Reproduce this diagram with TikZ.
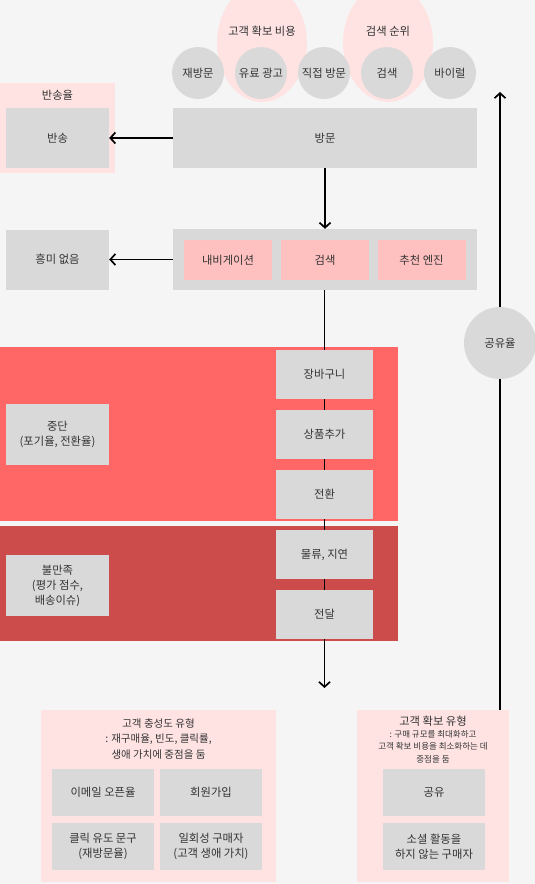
\documentclass[tikz,border=0pt]{standalone}
\usepackage{fontspec}
\setmainfont{Noto Sans CJK KR}
\usetikzlibrary{positioning, shapes.geometric, arrows.meta}

\definecolor{bggray}{HTML}{F5F5F5}
\definecolor{boxgray}{HTML}{D9D9D9}
\definecolor{softpink}{HTML}{FFE3E3}
\definecolor{rosepink}{HTML}{FFC0C0}
\definecolor{dropred}{HTML}{FF6666}
\definecolor{sadred}{HTML}{CC4B4B}
\definecolor{txt}{HTML}{333333}

\begin{document}
\begin{tikzpicture}[x=1pt, y=-1pt, on grid, node distance=60pt,
    font=\fontsize{11.3}{15}\selectfont, text=txt,
    box/.style={fill=boxgray, inner sep=0pt, align=center,
        minimum width=103pt, minimum height=60pt},
    colbox/.style={box, minimum width=97pt, minimum height=49pt},
    tag/.style={fill=rosepink, inner sep=0pt, minimum width=88pt, minimum height=40pt},
    source/.style={circle, fill=boxgray, inner sep=0pt, minimum size=52pt},
    halo/.style={ellipse, fill=softpink, inner sep=0pt, minimum width=90pt, minimum height=118pt},
    panel/.style={fill=softpink, inner sep=0pt},
    flow/.style={line width=1.7pt, -{Straight Barb[length=5pt, width=11pt, line width=1.7pt]}},
    link/.style={line width=1.7pt}]

    % page and bands
    \fill[bggray] (0,0) rectangle (535,884);
    \useasboundingbox (0,0) rectangle (535,884);
    \fill[dropred] (0,347) rectangle (398,521);
    \fill[sadred] (0,526) rectangle (398,641);

    % traffic sources
    \node[halo] (costhalo) at (262,43) {};
    \node[halo] (rankhalo) at (388,43) {};
    \node at (262,31) {고객 확보 비용};
    \node at (388,31) {검색 순위};
    \node[source] (revisit) at (198,73) {재방문};
    \node[source] (paid)   [right=63pt of revisit] {유료 광고};
    \node[source] (direct) [right=63pt of paid] {직접 방문};
    \node[source] (search) [right=63pt of direct] {검색};
    \node[source] (viral)  [right=63pt of search] {바이럴};

    % visit and bounce
    \node[panel, minimum width=115pt, minimum height=90pt] (bouncerate) at (57.5,128) {};
    \node at (57.5,95) {반송율};
    \node[box] (bounce) at (57.5,138) {반송};
    \node[box, minimum width=304pt] (visit) at (325,138) {방문};

    % browsing
    \node[box, minimum width=304pt, minimum height=61pt] (browse) at (325,259.5) {};
    \node[tag] (find) at (325,260) {검색};
    \node[tag] (nav)  [left=97pt of find] {내비게이션};
    \node[tag] (reco) [right=96.5pt of find] {추천 엔진};
    \node[box] (nointerest) at (57.5,259.5) {흥미 없음};

    % funnel
    \node[colbox] (basket) at (324.5,374.5) {장바구니};
    \node[colbox] (addcart) [below=of basket] {상품추가};
    \node[colbox] (convert) [below=of addcart] {전환};
    \node[colbox] (shipping) [below=of convert] {물류, 지연};
    \node[colbox] (deliver) [below=of shipping] {전달};
    \coordinate (funnelend) at (324.5,688);
    \node[box, minimum height=61pt] (abandon) at (57.5,434.5) {중단\\(포기율, 전환율)};
    \node[box, minimum height=61pt] (unhappy) at (57.5,585.5) {불만족\\(평가 점수,\\배송이슈)};

    % loyalty panel
    \node[panel, minimum width=235pt, minimum height=172pt] (loyal) at (158.5,796) {};
    \node[align=center, font=\fontsize{10.5}{15.5}\selectfont] at (158.5,739)
        {고객 충성도 유형\\: 재구매율, 빈도, 클릭률,\\생애 가치에 중점을 둠};
    \node[box, minimum width=102pt, minimum height=47pt] (emailopen) at (103,792.5) {이메일 오픈율};
    \node[box, minimum width=102pt, minimum height=47pt] (signup) [right=108pt of emailopen] {회원가입};
    \node[box, minimum width=102pt, minimum height=47pt] (cta) [below=54pt of emailopen] {클릭 유도 문구\\(재방문율)};
    \node[box, minimum width=102pt, minimum height=47pt] (oneoff) [right=108pt of cta] {일회성 구매자\\(고객 생애 가치)};

    % acquisition panel
    \node[panel, minimum width=152pt, minimum height=172pt] (acquire) at (433,796) {};
    \node at (433,721) {고객 확보 유형};
    \node[align=center, font=\fontsize{8.5}{12.5}\selectfont] at (433,746.5)
        {: 구매 규모를 최대화하고\\고객 확보 비용을 최소화하는 데\\중점을 둠};
    \node[box, minimum width=102pt, minimum height=47pt] (share) at (434,792.5) {공유};
    \node[box, minimum width=102pt, minimum height=47pt] (silent) [below=54pt of share] {소셜 활동을\\하지 않는 구매자};

    % connectors
    \draw[flow] (visit.west) -- (bounce.east);
    \draw[flow] (visit.south) -- (browse.north);
    \draw[flow] (browse.west) -- (nointerest.east);
    \draw[link] (browse.south -| basket) -- (basket.north);
    \draw[link] (basket) -- (addcart);
    \draw[link] (addcart) -- (convert);
    \draw[link] (convert) -- (shipping);
    \draw[link] (shipping) -- (deliver);
    \draw[flow] (deliver.south) -- (funnelend);
    \coordinate (sharetop) at (500,92);
    \draw[flow] (acquire.north -| sharetop) -- (sharetop);
    \node[source, minimum size=72pt] (sharerate) at (500,343) {공유율};
\end{tikzpicture}
\end{document}
